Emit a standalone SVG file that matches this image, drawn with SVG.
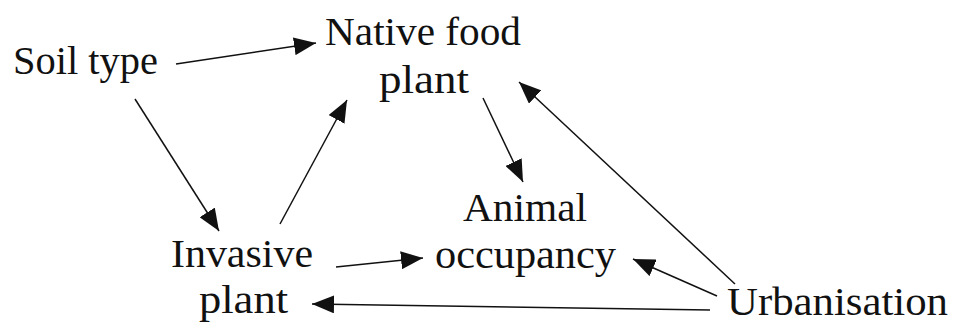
<svg xmlns="http://www.w3.org/2000/svg" width="953" height="325" viewBox="0 0 953 325">
  <style>
    .lbl { font-family: "Liberation Serif", "DejaVu Serif", serif; font-size: 39px; fill: #111; }
    .edge { stroke: #111; stroke-width: 1.5; fill: none; marker-end: url(#head); }
  </style>
  <defs>
    <marker id="head" markerUnits="userSpaceOnUse" markerWidth="22" markerHeight="18" refX="22" refY="9" orient="auto">
      <path d="M0,0 L22,9 L0,18 Z" fill="#111"/>
    </marker>
  </defs>
  <rect width="953" height="325" fill="#fff"/>

  <g id="connectors">
    <line class="edge" x1="176" y1="64" x2="316" y2="43"/>
    <line class="edge" x1="135" y1="99" x2="219" y2="231"/>
    <line class="edge" x1="280" y1="224" x2="347" y2="100"/>
    <line class="edge" x1="483" y1="98" x2="523" y2="182"/>
    <line class="edge" x1="735" y1="284" x2="519" y2="82"/>
    <line class="edge" x1="717" y1="296" x2="633" y2="259"/>
    <line class="edge" x1="336" y1="267" x2="423" y2="258"/>
    <line class="edge" x1="710" y1="310" x2="312" y2="304"/>
  </g>

  <g id="soil-type">
    <text class="lbl" x="13" y="74" textLength="145" lengthAdjust="spacingAndGlyphs">Soil type</text>
  </g>
  <g id="native-food-plant">
    <text class="lbl" x="325" y="45" textLength="196" lengthAdjust="spacingAndGlyphs">Native food</text>
    <text class="lbl" x="379" y="93" textLength="90" lengthAdjust="spacingAndGlyphs">plant</text>
  </g>
  <g id="invasive-plant">
    <text class="lbl" x="171" y="267" textLength="142" lengthAdjust="spacingAndGlyphs">Invasive</text>
    <text class="lbl" x="199" y="313" textLength="89" lengthAdjust="spacingAndGlyphs">plant</text>
  </g>
  <g id="animal-occupancy">
    <text class="lbl" x="463" y="221" textLength="124" lengthAdjust="spacingAndGlyphs">Animal</text>
    <text class="lbl" x="435" y="268" textLength="181" lengthAdjust="spacingAndGlyphs">occupancy</text>
  </g>
  <g id="urbanisation">
    <text class="lbl" x="727" y="315" textLength="221" lengthAdjust="spacingAndGlyphs">Urbanisation</text>
  </g>
</svg>
